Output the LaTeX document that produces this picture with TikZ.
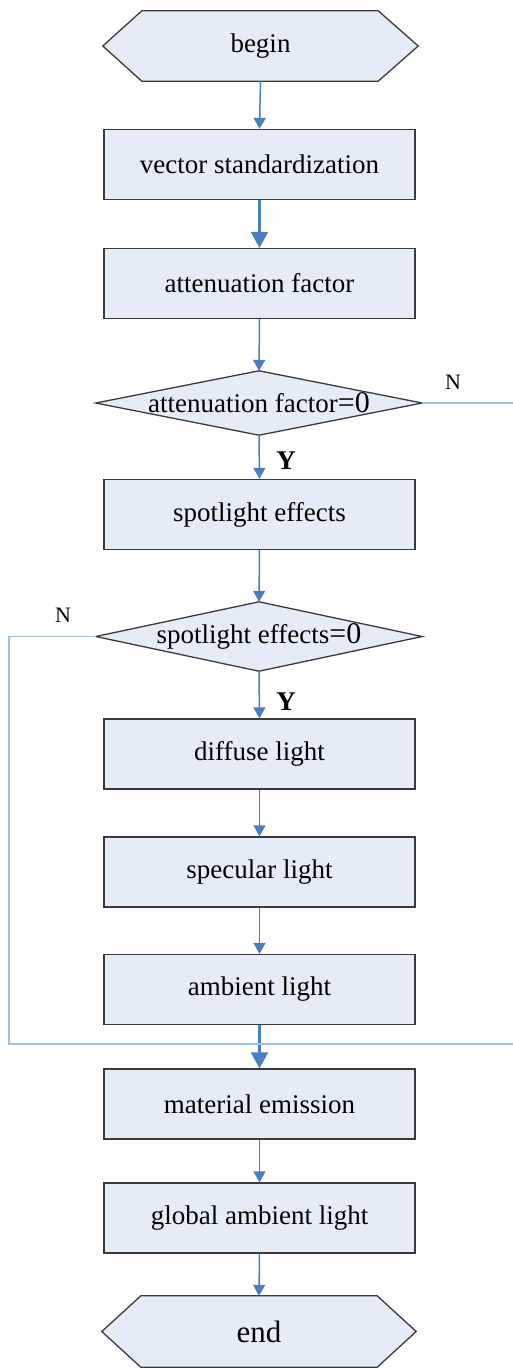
\documentclass[tikz,border=0pt]{standalone}
\usepackage{fontspec}
\setmainfont{Liberation Serif}
\usetikzlibrary{arrows.meta}
\pgfdeclarelayer{background}
\pgfsetlayers{background,main}
\definecolor{boxfill}{HTML}{E6ECF7}
\definecolor{boxline}{HTML}{3A3A3A}
\definecolor{flow}{HTML}{4A7EC2}
\definecolor{nline}{HTML}{A4BEE2}
\begin{document}
\begin{tikzpicture}[x=1pt,y=-1pt,
  proc/.style={draw=boxline, fill=boxfill, line width=1.3pt, minimum width=311pt,
    minimum height=70pt, inner sep=0pt, font=\fontsize{27}{30}\selectfont},
  ghost/.style={inner sep=0pt, font=\fontsize{27}{30}\selectfont},
  outline/.style={draw=boxline, fill=boxfill, line width=1.3pt, line join=miter},
  flowarrow/.style={draw=flow, line width=1.5pt, -{Triangle[width=12pt,length=11pt]}},
  thickarrow/.style={draw=flow, line width=2.5pt, -{Triangle[width=17pt,length=16pt]}},
  nconn/.style={draw=nline, line width=1.5pt},
  ylabel/.style={font=\fontsize{27}{30}\selectfont\bfseries, inner sep=0pt},
  nlabel/.style={font=\fontsize{22}{24}\selectfont, inner sep=0pt}
]
\useasboundingbox (0,0) rectangle (513,1368);

% nodes
\node[ghost, minimum width=315pt, minimum height=70pt] (begin) at (260.5,46) {begin};
\node[proc] (vs) at (259.5,164.5) {vector standardization};
\node[proc] (af) at (259.5,283.5) {attenuation factor};
\node[ghost, minimum width=326pt, minimum height=64pt] (d1) at (259,403)
  {attenuation factor{\fontsize{30}{32}\selectfont=0}};
\node[proc] (se) at (259.5,514.5) {spotlight effects};
\node[ghost, minimum width=326pt, minimum height=69pt] (d2) at (259,636.5)
  {spotlight effects{\fontsize{30}{32}\selectfont=0}};
\node[proc] (dl) at (259.5,754) {diffuse light};
\node[proc] (sl) at (259.5,872) {specular light};
\node[proc] (al) at (259.5,989.5) {ambient light};
\node[proc] (me) at (259.5,1104) {material emission};
\node[proc] (ga) at (259.5,1218) {global ambient light};
\node[ghost, minimum width=314pt, minimum height=71pt, font=\fontsize{31}{34}\selectfont] (end) at (259,1331.5) {end};

% outlines of non-rectangular shapes
\begin{pgfonlayer}{background}
\path[outline] (begin.west) -- ([xshift=39pt]begin.north west) -- ([xshift=-40pt]begin.north east)
  -- (begin.east) -- ([xshift=-40pt]begin.south east) -- ([xshift=39pt]begin.south west) -- cycle;
\path[outline] (end.west) -- ([xshift=39pt]end.north west) -- ([xshift=-39pt]end.north east)
  -- (end.east) -- ([xshift=-39pt]end.south east) -- ([xshift=39pt]end.south west) -- cycle;
\path[outline] (d1.west) -- (d1.north) -- (d1.east) -- (d1.south) -- cycle;
\path[outline] (d2.west) -- (d2.north) -- (d2.east) -- (d2.south) -- cycle;
\end{pgfonlayer}

% free ends
\coordinate (n1end) at (513,403);
\coordinate (loopcorner) at (9,1044);
\coordinate (loopend) at (513,1044);

% connectors
\draw[flowarrow] (begin.south) -- (vs.north);
\draw[thickarrow] (vs.south) -- (af.north);
\draw[flowarrow] (af.south) -- (d1.north);
\draw[flowarrow] (d1.south) -- (se.north);
\draw[flowarrow] (se.south) -- (d2.north);
\draw[flowarrow] (d2.south) -- (dl.north);
\draw[flowarrow] (dl.south) -- (sl.north);
\draw[flowarrow] (sl.south) -- (al.north);
\draw[thickarrow] (al.south) -- (me.north);
\draw[flowarrow] (me.south) -- (ga.north);
\draw[flowarrow] (ga.south) -- (end.north);

\draw[nconn] (d1.east) -- (n1end);
\draw[nconn] (d2.west) -| (loopcorner) -- (loopend);

% labels
\node[ylabel] (y1) at (286,461) {Y};
\node[ylabel] (y2) at (286,702) {Y};
\node[nlabel] (n1) at (453,382) {N};
\node[nlabel] (n2) at (63,615) {N};
\end{tikzpicture}
\end{document}
